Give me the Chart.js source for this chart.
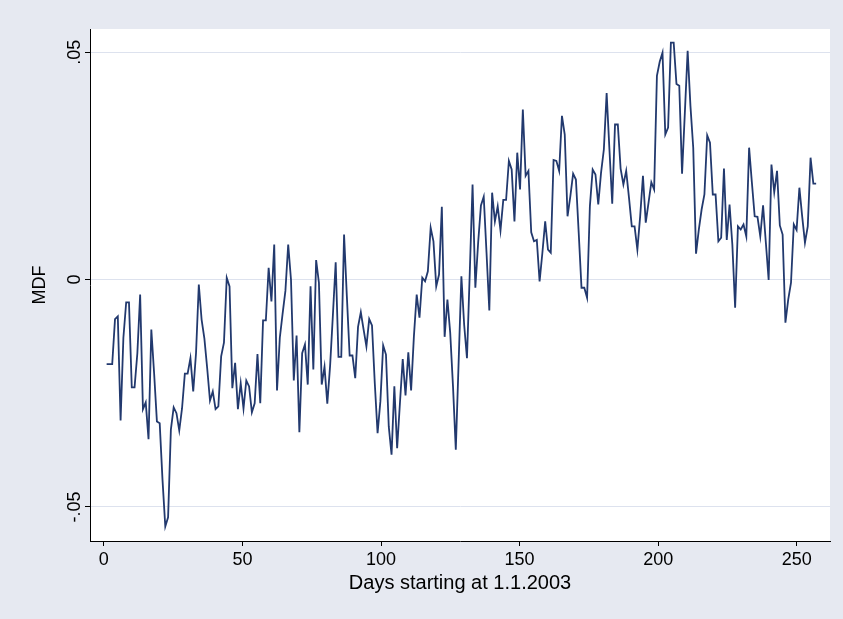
<!DOCTYPE html>
<html>
<head>
<meta charset="utf-8">
<script src="https://cdn.jsdelivr.net/npm/chart.js@4.4.1/dist/chart.umd.min.js"></script>
<style>
  html, body { margin: 0; padding: 0; background: #e6e9f1; }
  #wrap { width: 843px; height: 619px; }
</style>
</head>
<body>
<div id="wrap"><canvas id="mdf-chart" width="843" height="619"></canvas></div>
<script>
'use strict';

// MDF, one value per observation, evenly spaced from firstDay to lastDay
const mdfValues = [
  -0.0186, -0.0186, -0.0186, -0.0087, -0.0081, -0.0310, -0.0128, -0.0050, -0.0050, -0.0237,
  -0.0237, -0.0162, -0.0033, -0.0285, -0.0270, -0.0351, -0.0110, -0.0206, -0.0312, -0.0316,
  -0.0440, -0.0543, -0.0523, -0.0330, -0.0281, -0.0294, -0.0332, -0.0283, -0.0207, -0.0207,
  -0.0173, -0.0246, -0.0162, -0.0011, -0.0088, -0.0130, -0.0195, -0.0266, -0.0246, -0.0285,
  -0.0279, -0.0169, -0.0139,  0.0004, -0.0015, -0.0239, -0.0183, -0.0285, -0.0228, -0.0284,
  -0.0222, -0.0235, -0.0292, -0.0272, -0.0164, -0.0272, -0.0090, -0.0090,  0.0026, -0.0048,
   0.0077, -0.0244, -0.0128, -0.0075, -0.0025,  0.0077,  0.0000, -0.0222, -0.0123, -0.0336,
  -0.0162, -0.0143, -0.0231, -0.0015, -0.0198,  0.0043, -0.0007, -0.0231, -0.0192, -0.0273,
  -0.0190, -0.0078,  0.0038, -0.0170, -0.0170,  0.0099, -0.0037, -0.0167, -0.0167, -0.0217,
  -0.0104, -0.0072, -0.0110, -0.0147, -0.0087, -0.0101, -0.0228, -0.0338, -0.0268, -0.0145,
  -0.0165, -0.0323, -0.0385, -0.0235, -0.0371, -0.0272, -0.0175, -0.0255, -0.0160, -0.0244,
  -0.0125, -0.0033, -0.0084,  0.0004, -0.0004,  0.0018,  0.0114,  0.0084, -0.0015,  0.0011,
   0.0160, -0.0126, -0.0044, -0.0117, -0.0235, -0.0374, -0.0184,  0.0007, -0.0100, -0.0173,
   0.0015,  0.0209, -0.0018,  0.0081,  0.0163,  0.0182,  0.0059, -0.0068,  0.0191,  0.0128,
   0.0161,  0.0108,  0.0175,  0.0175,  0.0261,  0.0242,  0.0128,  0.0279,  0.0198,  0.0374,
   0.0228,  0.0239,  0.0104,  0.0084,  0.0087, -0.0004,  0.0059,  0.0128,  0.0066,  0.0059,
   0.0263,  0.0261,  0.0239,  0.0360,  0.0319,  0.0139,  0.0183,  0.0233,  0.0220,  0.0103,
  -0.0018, -0.0018, -0.0040,  0.0161,  0.0242,  0.0231,  0.0165,  0.0235,  0.0286,  0.0410,
   0.0286,  0.0167,  0.0341,  0.0341,  0.0244,  0.0209,  0.0239,  0.0180,  0.0117,  0.0117,
   0.0066,  0.0139,  0.0228,  0.0125,  0.0169,  0.0214,  0.0198,  0.0448,  0.0479,  0.0499,
   0.0319,  0.0334,  0.0521,  0.0521,  0.0430,  0.0426,  0.0233,  0.0367,  0.0503,  0.0382,
   0.0290,  0.0057,  0.0110,  0.0154,  0.0187,  0.0317,  0.0301,  0.0187,  0.0187,  0.0084,
   0.0092,  0.0244,  0.0087,  0.0165,  0.0077, -0.0062,  0.0117,  0.0110,  0.0121,  0.0095,
   0.0290,  0.0213,  0.0139,  0.0138,  0.0095,  0.0163,  0.0081, -0.0001,  0.0253,  0.0192,
   0.0239,  0.0119,  0.0099, -0.0095, -0.0044, -0.0007,  0.0121,  0.0109,  0.0202,  0.0139,
   0.0081,  0.0117,  0.0268,  0.0211,  0.0211
];
// day range covered by the series
const firstDay = 1;
const lastDay = 257;

const xTicks = [0, 50, 100, 150, 200, 250];
const yTicks = [-0.05, 0, 0.05];
const yTickLabels = ['-.05', '0', '.05'];

const xTitle = 'Days starting at 1.1.2003';
const yTitle = 'MDF';

// Stata s2color look
const outerBg = '#e6e9f1';
const plotBg = '#ffffff';
const lineColor = '#22396e';
const gridColor = '#dde2ee';
const fontFamily = "'Liberation Sans', Arial, sans-serif";

const dayStep = (lastDay - firstDay) / (mdfValues.length - 1);
const points = mdfValues.map((v, i) => ({ x: firstDay + i * dayStep, y: v }));

const backgroundPlugin = {
  id: 'stataBackground',
  beforeDraw(chart) {
    const { ctx, chartArea } = chart;
    ctx.save();
    ctx.fillStyle = outerBg;
    ctx.fillRect(0, 0, chart.width, chart.height);
    ctx.fillStyle = plotBg;
    ctx.fillRect(chartArea.left, chartArea.top, chartArea.right - chartArea.left, chartArea.bottom - chartArea.top);
    ctx.restore();
  }
};

new Chart(document.getElementById('mdf-chart'), {
  type: 'line',
  data: {
    datasets: [{
      label: yTitle,
      data: points,
      borderColor: lineColor,
      borderWidth: 1.8,
      pointRadius: 0,
      tension: 0,
      fill: false,
    }],
  },
  options: {
    responsive: false,
    animation: false,
    layout: { padding: { left: 0, top: 29, right: 13, bottom: 0 } },
    plugins: { legend: { display: false }, tooltip: { enabled: false } },
    scales: {
      x: {
        type: 'linear',
        min: -5,
        max: 262,
        afterBuildTicks: (s) => { s.ticks = xTicks.map(v => ({ value: v })); },
        afterFit: (s) => { s.height = 78; },
        grid: { drawOnChartArea: false, drawTicks: true, tickLength: 5, tickColor: '#000', color: '#000' },
        border: { display: true, color: '#000', width: 1 },
        ticks: { color: '#000', font: { family: fontFamily, size: 18 }, padding: 3, maxRotation: 0 },
        title: { display: true, text: xTitle, color: '#000', font: { family: fontFamily, size: 20 }, padding: { top: 0, bottom: 24 } },
      },
      y: {
        type: 'linear',
        min: -0.0575,
        max: 0.0551,
        afterBuildTicks: (s) => { s.ticks = yTicks.map(v => ({ value: v })); },
        afterFit: (s) => { s.width = 90; },
        grid: { color: gridColor, lineWidth: 1, drawTicks: true, tickLength: 5, tickColor: '#000' },
        border: { display: true, color: '#000', width: 1 },
        ticks: {
          color: '#000',
          font: { family: fontFamily, size: 18 },
          minRotation: 90,
          maxRotation: 90,
          crossAlign: 'center',
          padding: -6,
          callback: (v) => yTickLabels[yTicks.indexOf(v)] ?? '',
        },
        title: { display: true, text: yTitle, color: '#000', font: { family: fontFamily, size: 18 }, padding: { top: 29, bottom: 0 } },
      },
    },
  },
  plugins: [backgroundPlugin],
});
</script>
</body>
</html>
